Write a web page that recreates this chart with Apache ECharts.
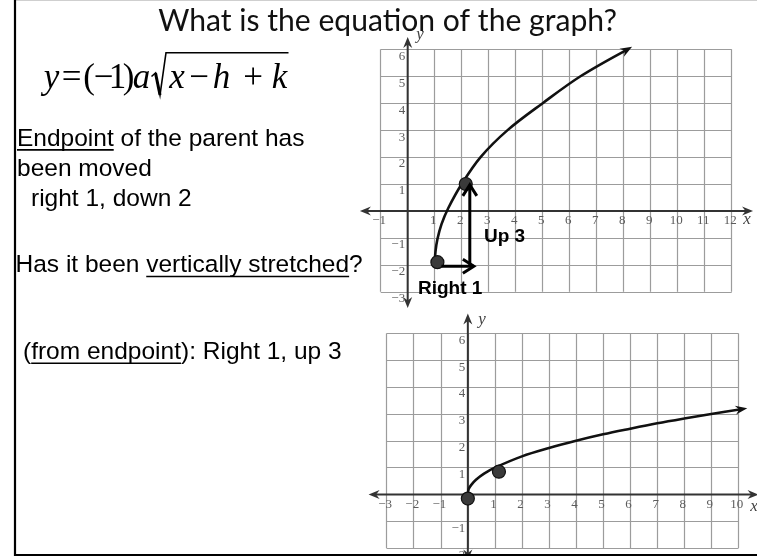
<!DOCTYPE html>
<html>
<head>
<meta charset="utf-8">
<title>What is the equation of the graph?</title>
<script src="https://cdn.jsdelivr.net/npm/echarts@6/dist/echarts.min.js"></script>
<style>
  html, body { margin: 0; padding: 0; background: #ffffff; }
  #chart { width: 757px; height: 556px; }
</style>
</head>
<body>
<div id="chart"></div>
<script>
// ---- data ---------------------------------------------------------------
// Upper graph: the transformed square-root curve, endpoint at (1, -2)
const upperCurve = [
  [1.0, -2.0], [1.03, -1.5], [1.1, -1.05], [1.25, -0.5], [1.5, 0.1],
  [2.0, 1.0], [2.7, 2.0], [3.7, 3.0], [5.0, 4.0], [6.4, 5.0], [8.15, 6.0]
];
const upperDots = [[1.1, -1.9], [2.15, 1.0]];
// "Right 1" and "Up 3" moves: [x1, y1, x2, y2]
const upperMoves = [[1.25, -2.05, 2.45, -2.05], [2.3, -2.05, 2.3, 0.97]];
const upperXRange = [-1, 12];
const upperYRange = [-3, 6];
const upperXTicks = [-1, 1, 2, 3, 4, 5, 6, 7, 8, 9, 10, 11, 12];
const upperYTicks = [6, 5, 4, 3, 2, 1, -1, -2, -3];

// Lower graph: the parent curve y = √x
const lowerCurve = [
  [0, 0], [0.03, 0.2], [0.12, 0.35], [0.3, 0.55], [0.6, 0.78], [1, 1],
  [2, 1.42], [3, 1.73], [4, 2], [5, 2.24], [6, 2.45], [7, 2.65],
  [8, 2.83], [9, 3], [10.15, 3.18]
];
const lowerDots = [[0, -0.15], [1.15, 0.85]];
const lowerXRange = [-3, 10];
const lowerYRange = [-2, 6];
const lowerXTicks = [-3, -2, -1, 1, 2, 3, 4, 5, 6, 7, 8, 9, 10];
const lowerYTicks = [6, 5, 4, 3, 2, 1, -1, -2];

const TITLE = 'What is the equation of the graph?';
const NOTES = [
  { text: 'Endpoint of the parent has', underline: 'Endpoint' },
  { text: 'been moved' },
  { text: 'right 1, down 2' },
  { text: 'Has it been vertically stretched?', underline: 'vertically stretched' },
  { text: '(from endpoint): Right 1, up 3', underline: 'from endpoint' }
];
const MOVE_LABELS = ['Right 1', 'Up 3'];

// ---- layout -------------------------------------------------------------
const NOTE_X = [17, 17, 31, 15.5, 23];
const NOTE_BASE = [146.7, 176.7, 206.7, 273.3, 360];
const NOTE_FONT_SIZE = 24.5;
const SANS = '"Liberation Sans", Arial, sans-serif';
const SERIF = '"Liberation Serif", "Times New Roman", serif';
const MID = 0.31; // distance from baseline to em-box middle, in em

const measureCtx = document.createElement('canvas').getContext('2d');
function textWidth(str, font) {
  measureCtx.font = font;
  return measureCtx.measureText(str).width;
}

function txt(str, x, baseline, size, family, opts) {
  opts = opts || {};
  const font = (opts.style || 'normal') + ' ' + (opts.weight || 'normal') + ' ' + size + 'px ' + family;
  const align = opts.align || 'left';
  return {
    type: 'text', x: x, y: baseline - MID * size, silent: true, z: 10,
    style: {
      text: str, font: font, fill: opts.color || '#000',
      align: align, textAlign: align,
      verticalAlign: 'middle', textVerticalAlign: 'middle'
    }
  };
}
function seg(x1, y1, x2, y2, w, color) {
  return {
    type: 'line', silent: true, z: 10,
    shape: { x1: x1, y1: y1, x2: x2, y2: y2 },
    style: { stroke: color || '#000', lineWidth: w }
  };
}

const graphics = [];
// slide frame
graphics.push(seg(15, 0.5, 757, 0.5, 1, '#cfcfcf'));
graphics.push(seg(15, 0, 15, 556, 2.2, '#000'));
graphics.push(seg(14, 555, 757, 555, 2, '#000'));

// title, sized to its line
const titleFamily = 'Lato, "Open Sans", sans-serif';
const titleSize = 30 * 459 / textWidth(TITLE, 'normal normal 30px ' + titleFamily);
graphics.push(txt(TITLE, 387.5, 30.5, titleSize, titleFamily, { align: 'center', color: '#111' }));

// formula  y = (−1)a√(x − h) + k
const EQ = 35;
const eqGlyphs = [
  ['y', 51.5, true], ['=', 71.5, false], ['(', 89, false], ['\u2212', 103.5, false],
  ['1', 117.5, false], [')', 128.5, false], ['a', 141.5, true],
  ['x', 177, true], ['\u2212', 199, false], ['h', 221.5, true],
  ['+', 253, false], ['k', 279.5, true]
];
eqGlyphs.forEach(function (g) {
  graphics.push(txt(g[0], g[1], 90, EQ, SERIF, { align: 'center', style: g[2] ? 'italic' : 'normal' }));
});
graphics.push({
  type: 'polyline', silent: true, z: 10,
  shape: { points: [[151.5, 76.5], [155.5, 73], [160, 95], [166, 52.7], [288.5, 52.7]] },
  style: { stroke: '#000', lineWidth: 1.6, fill: null, lineJoin: 'miter' }
});
graphics.push(seg(155.5, 73, 160, 95, 3, '#000'));

// notes with underlines
NOTES.forEach(function (n, i) {
  const font = 'normal normal ' + NOTE_FONT_SIZE + 'px ' + SANS;
  graphics.push(txt(n.text, NOTE_X[i], NOTE_BASE[i], NOTE_FONT_SIZE, SANS));
  if (n.underline) {
    const start = n.text.indexOf(n.underline);
    const x0 = NOTE_X[i] + textWidth(n.text.slice(0, start), font);
    const x1 = x0 + textWidth(n.underline, font);
    graphics.push(seg(x0, NOTE_BASE[i] + 3.2, x1, NOTE_BASE[i] + 3.2, 1.6, '#000'));
  }
});

// move labels
graphics.push(txt(MOVE_LABELS[0], 418, 295, 19, SANS, { weight: 'bold' }));
graphics.push(txt(MOVE_LABELS[1], 484, 242.7, 19, SANS, { weight: 'bold' }));

// axis letters
const axisLetter = { style: 'italic', align: 'center', color: '#444' };
graphics.push(txt('x', 747, 225, 17, SERIF, axisLetter));
graphics.push(txt('y', 420, 40, 17, SERIF, axisLetter));
graphics.push(txt('x', 754, 512, 17, SERIF, axisLetter));
graphics.push(txt('y', 482, 325, 17, SERIF, axisLetter));

// ---- drawing helpers for custom series -------------------------------
const AXIS_COLOR = '#333';
const TICK_FONT = 'normal normal 13px ' + SERIF;
const TICK_COLOR = '#5c5c5c';
function unit(from, to) {
  const dx = to[0] - from[0], dy = to[1] - from[1];
  const d = Math.hypot(dx, dy) || 1;
  return [dx / d, dy / d];
}
// filled arrowhead with a notched back
function stealth(tip, from, len, half, color) {
  const u = unit(from, tip), p = [-u[1], u[0]];
  const bx = tip[0] - u[0] * len, by = tip[1] - u[1] * len;
  const nx = tip[0] - u[0] * len * 0.68, ny = tip[1] - u[1] * len * 0.68;
  return {
    type: 'polygon',
    shape: { points: [tip, [bx + p[0] * half, by + p[1] * half], [nx, ny], [bx - p[0] * half, by - p[1] * half]] },
    style: { fill: color }
  };
}
// open chevron arrowhead
function chevron(tip, from, len, half, color, w) {
  const u = unit(from, tip), p = [-u[1], u[0]];
  const bx = tip[0] - u[0] * len, by = tip[1] - u[1] * len;
  return {
    type: 'polyline',
    shape: { points: [[bx + p[0] * half, by + p[1] * half], tip, [bx - p[0] * half, by - p[1] * half]] },
    style: { stroke: color, lineWidth: w, fill: null, lineJoin: 'miter' }
  };
}
function lineEl(a, b, color, w) {
  return { type: 'line', shape: { x1: a[0], y1: a[1], x2: b[0], y2: b[1] }, style: { stroke: color, lineWidth: w } };
}
function tickText(v) {
  if (v === 0) return '';
  return v < 0 ? '\u2212' + Math.abs(v) : String(v);
}

// coordinate axes reaching past the grid, arrows on every end
function renderAxes(params, api) {
  const L = api.coord([api.value(0), 0]), R = api.coord([api.value(1), 0]);
  const B = api.coord([0, api.value(2)]), T = api.coord([0, api.value(3)]);
  const u = unit(L, R), v = unit(B, T);
  return {
    type: 'group',
    children: [
      lineEl([L[0] + u[0] * 6, L[1]], [R[0] - u[0] * 6, R[1]], AXIS_COLOR, 2),
      lineEl([B[0], B[1] + v[1] * 6], [T[0], T[1] - v[1] * 6], AXIS_COLOR, 2),
      stealth(L, R, 11, 4.5, AXIS_COLOR), stealth(R, L, 11, 4.5, AXIS_COLOR),
      stealth(T, B, 11, 4.5, AXIS_COLOR), stealth(B, T, 11, 4.5, AXIS_COLOR)
    ]
  };
}
// numbers along the x axis, just below it and a little left of each line
function renderXTick(params, api) {
  const v = api.value(0);
  const p = api.coord([v, 0]);
  return {
    type: 'text', x: p[0] - 1.5, y: p[1] + 3.5,
    style: {
      text: tickText(v), font: TICK_FONT, fill: TICK_COLOR,
      align: 'center', textAlign: 'center', verticalAlign: 'top', textVerticalAlign: 'top'
    }
  };
}
// numbers along the y axis, left of it and just under each line
function renderYTick(params, api) {
  const v = api.value(1);
  const p = api.coord([0, v]);
  return {
    type: 'text', x: p[0] - 2.5, y: p[1] + 0.5,
    style: {
      text: tickText(v), font: TICK_FONT, fill: TICK_COLOR,
      align: 'right', textAlign: 'right', verticalAlign: 'top', textVerticalAlign: 'top'
    }
  };
}
// arrowhead at the end of a curve, pointing along its last segment
function renderCurveEnd(params, api) {
  const a = api.coord([api.value(0), api.value(1)]);
  const b = api.coord([api.value(2), api.value(3)]);
  const u = unit(a, b);
  const tip = [b[0] + u[0] * 5, b[1] + u[1] * 5];
  return stealth(tip, a, 12, 4.5, '#111');
}
function renderMove(params, api) {
  const a = api.coord([api.value(0), api.value(1)]);
  const b = api.coord([api.value(2), api.value(3)]);
  return {
    type: 'group',
    children: [lineEl(a, b, '#000', 3), chevron(b, a, 11, 7, '#000', 3)]
  };
}

// ---- axes -----------------------------------------------------------
function axis(range, gridIndex) {
  return {
    type: 'value', gridIndex: gridIndex, min: range[0], max: range[1], interval: 1,
    axisLine: { show: false },
    axisTick: { show: false },
    axisLabel: { show: false },
    splitLine: { show: true, lineStyle: { color: '#9c9c9c', width: 1.2 } }
  };
}

function ticksOn(xIdx, xTicks, yTicks) {
  return [
    {
      type: 'custom', xAxisIndex: xIdx, yAxisIndex: xIdx, z: 2, clip: false, silent: true,
      renderItem: renderXTick, data: xTicks.map(function (v) { return [v, 0]; })
    },
    {
      type: 'custom', xAxisIndex: xIdx, yAxisIndex: xIdx, z: 2, clip: false, silent: true,
      renderItem: renderYTick, data: yTicks.map(function (v) { return [0, v]; })
    }
  ];
}

const option = {
  animation: false,
  backgroundColor: '#ffffff',
  grid: [
    { left: 380.7, right: 25.3, top: 49.3, bottom: 264.2, containLabel: false, outerBoundsMode: 'none', show: false },
    { left: 386.7, right: 18.7, top: 333.3, bottom: 7.7, containLabel: false, outerBoundsMode: 'none', show: false }
  ],
  xAxis: [axis(upperXRange, 0), axis(lowerXRange, 1)],
  yAxis: [axis(upperYRange, 0), axis(lowerYRange, 1)],
  graphic: { elements: graphics },
  series: [
    {
      type: 'custom', xAxisIndex: 0, yAxisIndex: 0, z: 2, clip: false, silent: true,
      renderItem: renderAxes, data: [[-1.77, 12.79, -3.6, 6.46]]
    },
    {
      type: 'custom', xAxisIndex: 1, yAxisIndex: 1, z: 2, clip: false, silent: true,
      renderItem: renderAxes, data: [[-3.67, 10.75, -2.45, 6.74]]
    }
  ].concat(ticksOn(0, upperXTicks, upperYTicks), ticksOn(1, lowerXTicks, lowerYTicks), [
    {
      type: 'line', xAxisIndex: 0, yAxisIndex: 0, data: upperCurve, smooth: 0.35,
      symbol: 'none', silent: true, z: 3, lineStyle: { color: '#111', width: 2.6 }
    },
    {
      type: 'line', xAxisIndex: 1, yAxisIndex: 1, data: lowerCurve, smooth: 0.35,
      symbol: 'none', silent: true, z: 3, lineStyle: { color: '#111', width: 2.6 }
    },
    {
      type: 'custom', xAxisIndex: 0, yAxisIndex: 0, z: 3, clip: false, silent: true,
      renderItem: renderCurveEnd, data: [[].concat(upperCurve[upperCurve.length - 2], upperCurve[upperCurve.length - 1])]
    },
    {
      type: 'custom', xAxisIndex: 1, yAxisIndex: 1, z: 3, clip: false, silent: true,
      renderItem: renderCurveEnd, data: [[].concat(lowerCurve[lowerCurve.length - 2], lowerCurve[lowerCurve.length - 1])]
    },
    {
      type: 'scatter', xAxisIndex: 0, yAxisIndex: 0, data: upperDots, symbolSize: 13, z: 4, silent: true,
      itemStyle: { color: '#3a3a3a', borderColor: '#111', borderWidth: 1.2, opacity: 1 }
    },
    {
      type: 'scatter', xAxisIndex: 1, yAxisIndex: 1, data: lowerDots, symbolSize: 13, z: 4, silent: true,
      itemStyle: { color: '#3a3a3a', borderColor: '#111', borderWidth: 1.2, opacity: 1 }
    },
    {
      type: 'custom', xAxisIndex: 0, yAxisIndex: 0, z: 5, clip: false, silent: true,
      renderItem: renderMove, data: upperMoves
    }
  ])
};

const chart = echarts.init(document.getElementById('chart'), null, { renderer: 'canvas' });
chart.setOption(option);
</script>
</body>
</html>
